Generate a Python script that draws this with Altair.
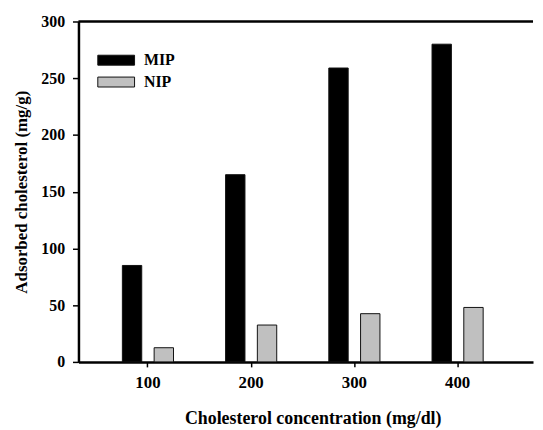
import altair as alt
import pandas as pd

concentrations = ["100", "200", "300", "400"]
mip_values = [85, 165, 259, 280]
nip_values = [12.5, 32.5, 42.5, 48]
series_names = ["MIP", "NIP"]

rows = []
for c, m, n in zip(concentrations, mip_values, nip_values):
    rows.append({"conc": c, "series": "MIP", "value": m})
    rows.append({"conc": c, "series": "NIP", "value": n})
df = pd.DataFrame(rows)

FONT = "Liberation Serif"

bars = alt.Chart(df).mark_bar(stroke="#111111", strokeWidth=1).encode(
    x=alt.X("conc:N", sort=concentrations,
            scale=alt.Scale(paddingInner=0, paddingOuter=0.2019, align=0.4286),
            axis=alt.Axis(title="Cholesterol concentration (mg/dl)", labelAngle=0,
                          tickSize=5, tickWidth=1.5, tickColor="black",
                          domainWidth=2.5, domainColor="black",
                          labelPadding=8, titlePadding=19, titleX=236,
                          labelFontSize=17, titleFontSize=18)),
    xOffset=alt.XOffset("series:N", sort=series_names,
                        scale=alt.Scale(paddingInner=0.39, paddingOuter=0.82)),
    y=alt.Y("value:Q", scale=alt.Scale(domain=[0, 300], nice=False),
            axis=alt.Axis(title="Adsorbed cholesterol  (mg/g)", values=[0, 50, 100, 150, 200, 250, 300],
                          tickSize=6, tickWidth=1.5, tickColor="black",
                          domainWidth=2.5, domainColor="black", grid=False,
                          labelPadding=8, titlePadding=10,
                          labelFontSize=16, titleFontSize=17)),
    fill=alt.Fill("series:N", sort=series_names,
                  scale=alt.Scale(domain=series_names, range=["#000000", "#c0c0c0"]),
                  legend=alt.Legend(title=None, orient="none", legendX=30, legendY=31,
                                    symbolType="M-2.7,-0.73 L2.7,-0.73 L2.7,0.73 L-2.7,0.73 Z",
                                    symbolSize=188, symbolStrokeColor="#111111",
                                    symbolStrokeWidth=1, labelOffset=20,
                                    rowPadding=6, labelFontSize=16, padding=0)),
)

top = alt.Chart(pd.DataFrame({"v": [300]})).mark_rule(color="black", strokeWidth=2.5).encode(
    y=alt.Y("v:Q")
)

chart = alt.layer(bars, top).properties(
    width=458, height=343, background="white",
    padding={"left": 5, "top": 4, "right": 0, "bottom": 0}
).configure_view(
    stroke=None
).configure_axis(
    labelFont=FONT, titleFont=FONT, labelFontWeight="bold", titleFontWeight="bold",
    labelColor="black", titleColor="black", grid=False
).configure_legend(
    labelFont=FONT, labelFontWeight="bold", labelColor="black"
)

chart.save("out.html", embed_options={"renderer": "svg", "actions": False})
